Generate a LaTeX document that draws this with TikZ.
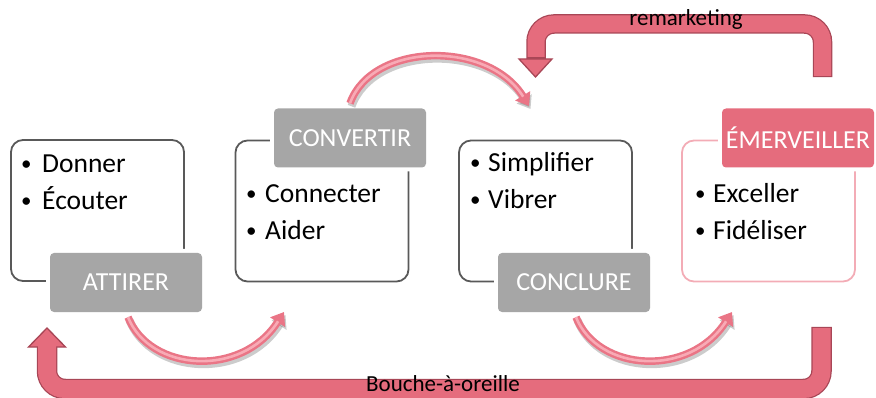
\documentclass[tikz,border=0pt]{standalone}
\usepackage{fontspec}
\setmainfont{Carlito}
\usetikzlibrary{arrows.meta}

\definecolor{rosefill}{RGB}{229,108,125}
\definecolor{roseedge}{RGB}{168,70,86}
\definecolor{roseline}{RGB}{243,172,182}
\definecolor{curveout}{RGB}{234,117,134}
\definecolor{curvein}{RGB}{248,170,181}
\definecolor{labelgray}{RGB}{166,166,166}
\definecolor{edgegray}{RGB}{89,89,89}

% bullet followed by its text, the text starting #1 after the bullet
\newcommand\stagebullet[2]{\makebox[#1][l]{\raisebox{2.5pt}{\fontsize{21}{21}\selectfont\textbullet}}#2}

\begin{document}
\begin{tikzpicture}[x=1pt,y=-1pt,
  stagebox/.style={draw=edgegray, line width=1.8pt, rounded corners=12pt,
    minimum width=173pt, minimum height=141pt, inner sep=0pt},
  rosebox/.style={stagebox, draw=roseline},
  stagelabel/.style={fill=labelgray, rounded corners=4pt, text=white,
    minimum width=152pt, minimum height=59pt, inner sep=0pt,
    font=\fontsize{26}{30}\selectfont,
    preaction={draw=white, line width=8pt}},
  roselabel/.style={stagelabel, fill=rosefill},
  item/.style={anchor=base west, inner sep=0pt, font=\fontsize{27.5}{32}\selectfont},
  flowtext/.style={inner sep=0pt, font=\fontsize{23}{27}\selectfont},
  curve/.style={draw=curveout, line width=7.5pt, -{Triangle[length=12pt,width=17pt]},
    preaction={draw=black, opacity=.2, line width=8pt,
      transform canvas={shift={(1.5pt,-3pt)}}},
    postaction={draw=curvein, line width=2.6pt, shorten >=11pt, -}},
  shaftedge/.style={draw=roseedge, line cap=butt, rounded corners=18pt},
  shaftfill/.style={draw=rosefill, line cap=butt, rounded corners=18pt},
  headshape/.style={fill=rosefill, draw=roseedge, line width=1.3pt, line join=miter}
]
\useasboundingbox (0,0) rectangle (876,398);

% feedback arrow along the bottom: "Bouche-a-oreille"
\draw[shaftedge, line width=20.5pt] (821.5,326.8) -- (821.5,389) -- (47,389) -- (47,347);
\draw[headshape] (28.5,347) -- (47,328) -- (65.5,347) -- cycle;
\draw[shaftfill, line width=18pt] (821.5,328) -- (821.5,389) -- (47,389) -- (47,345);
\node[flowtext, anchor=base] (bao) at (443,391) {Bouche-à-oreille};

% feedback arrow along the top: "remarketing"
\draw[shaftedge, line width=19.5pt] (822.5,77.2) -- (822.5,24) -- (536,24) -- (536,59);
\draw[headshape] (519,59) -- (535.5,77) -- (552,59) -- cycle;
\draw[shaftfill, line width=17pt] (822.5,76) -- (822.5,24) -- (536,24) -- (536,57);
\node[flowtext] (remk) at (686,19) {remarketing};

% stage frames
\node[stagebox] (b1) at (97.5,210.5) {};
\node[stagebox] (b2) at (322,211) {};
\node[stagebox] (b3) at (545.5,211) {};
\node[rosebox] (b4) at (768.5,211) {};

% stage contents
\node[item] (d1) at (21,173) {\stagebullet{21pt}{Donner}};
\node[item] (d2) at (21,210) {\stagebullet{21pt}{Écouter}};
\node[item] (c1) at (246,203) {\stagebullet{19pt}{Connecter}};
\node[item] (c2) at (246,240) {\stagebullet{19pt}{Aider}};
\node[item] (s1) at (470,172) {\stagebullet{18pt}{Simplifier}};
\node[item] (s2) at (470,209) {\stagebullet{18pt}{Vibrer}};
\node[item] (e1) at (695,203) {\stagebullet{18pt}{Exceller}};
\node[item] (e2) at (695,240) {\stagebullet{18pt}{Fidéliser}};

% stage titles
\node[stagelabel] (l1) at (126,282.5) {ATTIRER};
\node[stagelabel] (l2) at (350,138) {CONVERTIR};
\node[stagelabel] (l3) at (574,282.5) {CONCLURE};
\node[roselabel] (l4) at (798,138) {ÉMERVEILLER};

% arrow ends
\coordinate (t1) at (284,312);
\coordinate (t2) at (529,106);
\coordinate (t3) at (732,312);

% curved arrows between the stages
\draw[curve] ([shift={(2,5)}]l1.south) .. controls (150,372) and (242,378) .. (t1);
\draw[curve] ([shift={(0,-5)}]l2.north) .. controls (372,42) and (488,40) .. (t2);
\draw[curve] ([shift={(2,5)}]l3.south) .. controls (598,372) and (690,378) .. (t3);
\end{tikzpicture}
\end{document}
